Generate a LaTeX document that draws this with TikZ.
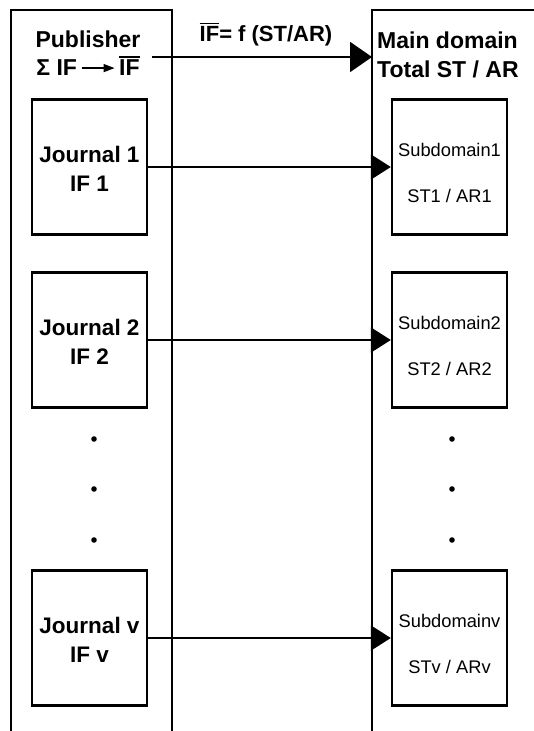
\documentclass[tikz,border=0pt]{standalone}
\usepackage{fontspec}
\setmainfont{Liberation Sans}
\usetikzlibrary{arrows.meta,calc}
\newcommand\myIFbar{\vbox{\hrule height 1.6pt\kern2.2pt\hbox{IF}}}
\begin{document}
\begin{tikzpicture}[x=1pt,y=-1pt,
  panel/.style={line width=2pt},
  itembox/.style={draw,line width=2.4pt,minimum width=115pt,minimum height=135pt,inner sep=0pt},
  jtext/.style={align=center,inner sep=0pt,font=\bfseries\fontsize{22.5}{28.5}\selectfont},
  stext/.style={align=center,inner sep=0pt,font=\fontsize{18.3}{46}\selectfont},
  head/.style={align=center,inner sep=0pt,font=\bfseries\fontsize{23}{28.5}\selectfont},
  link/.style={line width=2pt,-{Triangle[length=20pt,width=25pt]}},
  biglink/.style={line width=2pt,-{Triangle[length=22pt,width=30pt]}},
  dot/.style={fill=black}]
\useasboundingbox (0,0) rectangle (534,731);
% panels
\draw[panel] (11,740) -- (11,10) -- (172,10) -- (172,740);
\draw[panel] (372,740) -- (372,10) -- (545,10);
% headings
\node[head] (pub) at (88,53) {Publisher\\Σ IF\,\tikz[baseline=0pt]\draw[line width=1.4pt,-{Triangle[length=11pt,width=8pt]}] (0pt,7.5pt) -- (33pt,7.5pt);\,\myIFbar};
\node[head,align=left,anchor=west] (main) at (377,55) {Main domain\\Total ST / AR};
\node[inner sep=0pt,anchor=base,font=\bfseries\fontsize{22}{26}\selectfont] (formula) at (266,41.7) {\myIFbar= f (ST/AR)};
\coordinate (ta) at (152,57);
\coordinate (tb) at (372,57);
\draw[biglink] (ta) -- (tb);
% item boxes
\node[itembox] (j1) at (89.5,167) {};
\node[itembox] (j2) at (89.5,340) {};
\node[itembox] (jv) at (89.5,638) {};
\node[itembox] (s1) at (449.5,167) {};
\node[itembox] (s2) at (449.5,340) {};
\node[itembox] (sv) at (449.5,638) {};
\node[jtext] (j1t) at ($(j1.center)+(0,2)$) {Journal 1\\IF 1};
\node[jtext] (j2t) at ($(j2.center)+(0,2)$) {Journal 2\\IF 2};
\node[jtext] (jvt) at ($(jv.center)+(0,2)$) {Journal v\\IF v};
\node[stext] (s1t) at ($(s1.center)+(0,5.5)$) {Subdomain1\\ST1 / AR1};
\node[stext] (s2t) at ($(s2.center)+(0,5.5)$) {Subdomain2\\ST2 / AR2};
\node[stext] (svt) at ($(sv.center)+(0,5.5)$) {Subdomainv\\STv / ARv};
% connectors
\draw[link] (j1.east) -- (s1.west);
\draw[link] (j2.east) -- (s2.west);
\draw[link] (jv.east) -- (sv.west);
% dots
\foreach \yy in {439,489,540} {
  \fill[dot] (94,\yy) circle (2.8);
  \fill[dot] (452,\yy) circle (2.8);
}
\end{tikzpicture}
\end{document}
